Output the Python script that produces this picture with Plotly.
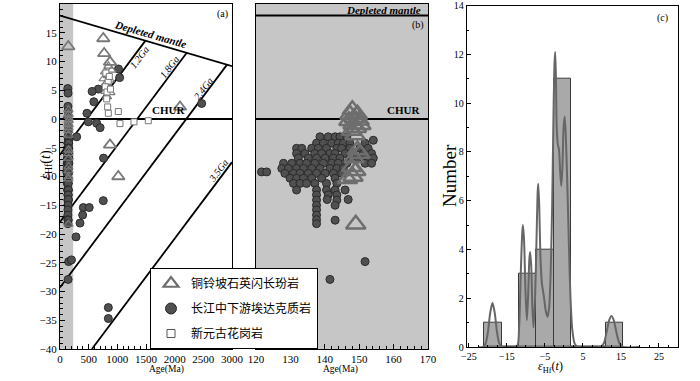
import plotly.graph_objects as go

FONT = "Liberation Serif"
CJK = "Noto Sans CJK SC"

# ---------------- reference model lines (panel a) ----------------
dm_eps_0 = 18.0        # depleted mantle eps at 0 Ma
dm_eps_3000 = 9.2      # depleted mantle eps at 3000 Ma
crust_names = ["1.2Ga", "1.8Ga", "2.4Ga", "3.5Ga"]
crust_eps0 = [-6.2, -17.9, -29.3, -47.4]   # eps at 0 Ma
crust_slope = 0.0133                        # eps per Ma

# ---------------- 长江中下游埃达克质岩 (panel b, also strip of a) ----------------
adk_age = [138.6, 141.0, 143.0, 144.4, 146.4, 154.1,
           137.6, 139.6, 142.0, 143.9, 145.4, 147.3, 151.7,
           131.8, 133.3, 136.2, 138.1, 140.5, 143.5, 144.9, 147.3, 150.2, 152.6,
           131.8, 134.2, 137.1, 139.1, 141.5, 143.0, 145.9, 147.8, 151.2, 153.6,
           132.3, 135.2, 137.6, 140.1, 142.5, 144.4, 147.3, 149.7, 152.2, 154.1,
           128.0, 130.4, 132.8, 134.7, 137.1, 139.6, 142.0, 143.9, 146.4, 151.7, 153.6,
           127.5, 129.4, 131.8, 133.8, 136.2, 138.6, 141.5, 143.5, 145.4,
           128.4, 130.9, 132.8, 135.2, 137.6, 140.1, 142.5, 144.9,
           129.9, 131.8, 133.8, 136.2, 139.1, 143.0,
           130.9, 132.8, 134.7, 137.1, 140.5, 143.5,
           131.8, 137.6, 140.5, 143.0, 145.9,
           137.6, 141.0, 143.5,
           137.6, 140.7, 143.5, 146.8,
           137.6, 143.0,
           137.6, 137.6, 137.6, 143.0, 137.6,
           121.6, 123.1, 151.7, 141.5]
adk_eps = [-3.1, -3.1, -3.1, -3.1, -3.1, -3.7,
           -4.2, -4.2, -4.2, -4.2, -4.2, -4.2, -4.2,
           -5.1, -5.1, -5.1, -5.1, -5.1, -5.1, -5.1, -5.1, -5.1, -5.1,
           -6.0, -6.0, -6.0, -6.0, -6.0, -6.0, -6.0, -6.0, -6.0, -6.0,
           -6.8, -6.8, -6.8, -6.8, -6.8, -6.8, -6.8, -6.8, -6.8, -6.8,
           -7.7, -7.7, -7.7, -7.7, -7.7, -7.7, -7.7, -7.7, -7.7, -7.7, -7.7,
           -8.6, -8.6, -8.6, -8.6, -8.6, -8.6, -8.6, -8.6, -8.6,
           -9.45, -9.45, -9.45, -9.45, -9.45, -9.45, -9.45, -9.45,
           -10.3, -10.3, -10.3, -10.3, -10.3, -10.3,
           -11.2, -11.2, -11.2, -11.2, -11.2, -11.2,
           -12.35, -12.35, -12.35, -12.35, -12.35,
           -13.2, -13.2, -13.2,
           -14.1, -14.0, -14.1, -14.0,
           -15.0, -15.0,
           -15.8, -16.7, -17.5, -17.6, -18.2,
           -9.2, -9.2, -24.8, -27.9]

# extra 埃达克质岩 points in panel (a)
adk_a_age = [135, 140, 138, 142, 136, 145, 140,
             1020, 1040, 668, 560, 590, 470, 494, 640, 700, 291, 760, 2471,
             755, 407, 510, 395, 349, 279, 200, 843, 843]
adk_a_eps = [5.3, 4.5, 2.2, 1.4, 0.3, -1.2, -2.0,
             8.7, 7.2, 5.2, 4.8, 3.0, 1.0, -0.5, -0.75, -1.5, -3.1, -6.8, 2.7,
             -14.2, -15.4, -15.4, -16.7, -18.1, -20.5, -24.5, -32.8, -34.7]

# ---------------- 铜铃坡石英闪长玢岩 ----------------
tlp_age = [148.0, 147.3, 149.5, 148.5, 147.0, 150.0, 148.2, 149.2, 147.8, 150.5,
           148.8, 149.5, 150.2, 148.5, 147.8, 149.0, 148.2, 146.6, 149.0]
tlp_eps = [1.6, 0.8, 0.8, 0.2, -0.3, -0.2, -0.9, -1.5, -2.0, -1.0,
           -2.8, -5.4, -6.0, -6.8, -8.3, -9.0, -10.0, -10.4, -18.3]
tlp_a_age = [145, 755, 770, 872, 872, 1017, 2093]
tlp_a_eps = [12.6, 14.0, 11.4, 9.9, -4.5, -10.0, 2.1]
tlp_a_small_age = [785, 830, 870, 800, 850, 790, 880, 820, 900, 760, 845]
tlp_a_small_eps = [8.2, 7.6, 6.8, 6.2, 5.6, 4.8, 4.6, 3.9, 8.5, 7.0, 9.2]

# ---------------- 新元古花岗岩 ----------------
neo_age = [814, 831, 843, 1017, 1046, 1290, 1540, 800, 840, 790, 860, 820, 880]
neo_eps = [3.5, 2.1, 1.0, 1.3, -0.8, -0.5, -0.3, 8.0, 6.6, 5.6, 7.4, 4.7, 5.2]

# ---------------- panel (c) histogram + density curve ----------------
hist_center = [-18.625, -14.075, -9.525, -4.975, -0.425, 4.125, 8.675, 13.225]
hist_count = [1, 0, 3, 4, 11, 0, 0, 1]
bin_width = 4.55
kde_x = [-22.5, -21.3, -20.6, -20.0, -19.4, -18.8, -18.2, -17.6, -17.0, -16.2,
         -12.4, -11.8, -11.4, -11.0, -10.8, -10.5, -10.1, -9.75, -9.4, -9.1, -8.9, -8.6,
         -8.3, -8.0, -7.6, -7.2, -6.9, -6.75, -6.5, -6.2, -5.8, -5.3, -4.8, -4.3, -3.9,
         -3.5, -3.1, -2.8, -2.5, -2.3, -2.1, -1.9, -1.6, -1.3, -1.0, -0.7, -0.4, -0.1,
         0.2, 0.5, 0.9, 1.3, 1.7, 2.2, 2.8, 3.6,
         9.6, 10.5, 11.2, 11.9, 12.5, 13.1, 13.8, 14.6, 15.6, 20.0]
kde_y = [0, 0, 0.15, 0.6, 1.4, 1.82, 1.4, 0.6, 0.15, 0,
         0, 0.8, 2.8, 4.6, 5.0, 4.4, 2.2, 1.1, 2.2, 3.6, 3.9, 3.3,
         1.6, 0.8, 2.0, 4.5, 6.4, 6.7, 5.8, 3.8, 2.6, 2.1, 1.5, 1.24, 1.6,
         3.0, 5.8, 9.0, 11.6, 12.1, 11.0, 9.0, 8.3, 8.1, 7.2, 6.6, 7.4, 9.0,
         9.45, 8.6, 6.6, 4.2, 2.1, 0.7, 0.15, 0,
         0, 0.15, 0.6, 1.1, 1.27, 1.1, 0.6, 0.15, 0, 0]

# ---------------- styles ----------------
CIRC = dict(symbol="circle", size=8, color="#505050", line=dict(color="#2a2a2a", width=1))
TRI_A = dict(symbol="triangle-up", size=11, color="rgba(0,0,0,0)", line=dict(color="#787878", width=1.8))
TRI_AS = dict(symbol="triangle-up", size=8, color="rgba(0,0,0,0)", line=dict(color="#7a7a7a", width=1.2))
TRI_B = dict(symbol="triangle-up", size=17, color="rgba(0,0,0,0)", line=dict(color="#6e6e6e", width=2.5))
SQ = dict(symbol="square", size=6, color="white", line=dict(color="#777777", width=1))

fig = go.Figure()

# model lines in (a)
dm_slope = (dm_eps_3000 - dm_eps_0) / 3000.0
fig.add_trace(go.Scatter(x=[0, 3000], y=[dm_eps_0, dm_eps_3000], mode="lines",
                         line=dict(color="black", width=1.8), showlegend=False,
                         hoverinfo="skip", xaxis="x", yaxis="y"))
fig.add_trace(go.Scatter(x=[0, 3000], y=[0, 0], mode="lines",
                         line=dict(color="black", width=1.8), showlegend=False,
                         hoverinfo="skip", xaxis="x", yaxis="y"))
for e0 in crust_eps0:
    t0 = max(0.0, (-40 - e0) / crust_slope)
    t1 = min(3000.0, (dm_eps_0 - e0) / (crust_slope - dm_slope))
    fig.add_trace(go.Scatter(x=[t0, t1], y=[e0 + crust_slope * t0, e0 + crust_slope * t1],
                             mode="lines", line=dict(color="black", width=1.8),
                             showlegend=False, hoverinfo="skip", xaxis="x", yaxis="y"))

# model lines in (b)
for v in [dm_eps_0, 0]:
    fig.add_trace(go.Scatter(x=[120, 170], y=[v, v], mode="lines",
                             line=dict(color="black", width=1.8), showlegend=False,
                             hoverinfo="skip", xaxis="x2", yaxis="y2"))

# points panel (a)
fig.add_trace(go.Scatter(x=adk_age + adk_a_age, y=adk_eps + adk_a_eps, mode="markers",
                         marker=CIRC, showlegend=False, xaxis="x", yaxis="y"))
fig.add_trace(go.Scatter(x=tlp_age, y=tlp_eps, mode="markers", marker=TRI_AS,
                         showlegend=False, xaxis="x", yaxis="y"))
fig.add_trace(go.Scatter(x=tlp_a_small_age, y=tlp_a_small_eps, mode="markers", marker=TRI_AS,
                         showlegend=False, xaxis="x", yaxis="y"))
fig.add_trace(go.Scatter(x=neo_age, y=neo_eps, mode="markers", marker=SQ,
                         showlegend=False, xaxis="x", yaxis="y"))
fig.add_trace(go.Scatter(x=tlp_a_age, y=tlp_a_eps, mode="markers", marker=TRI_A,
                         showlegend=False, xaxis="x", yaxis="y"))

# points panel (b)
fig.add_trace(go.Scatter(x=adk_age, y=adk_eps, mode="markers", marker=CIRC,
                         showlegend=False, xaxis="x2", yaxis="y2"))
fig.add_trace(go.Scatter(x=tlp_age, y=tlp_eps, mode="markers", marker=TRI_B,
                         showlegend=False, xaxis="x2", yaxis="y2"))

# panel (c)
fig.add_trace(go.Bar(x=hist_center, y=hist_count, width=bin_width,
                     marker=dict(color="#a9a9a9", line=dict(color="#3a3a3a", width=1)),
                     showlegend=False, xaxis="x3", yaxis="y3"))
fig.add_trace(go.Scatter(x=kde_x, y=kde_y, mode="lines",
                         line=dict(color="#666666", width=2, shape="spline", smoothing=0.7),
                         showlegend=False, xaxis="x3", yaxis="y3"))

# legend entries
for name, mk, grp in [("铜铃坡石英闪长玢岩", dict(symbol="triangle-up", size=13, color="rgba(0,0,0,0)",
                                                 line=dict(color="#6e6e6e", width=2.2)), "g1"),
                      ("长江中下游埃达克质岩", dict(symbol="circle", size=11, color="#505050",
                                                  line=dict(color="#2a2a2a", width=1)), "g2"),
                      ("新元古花岗岩", dict(symbol="square", size=8, color="white",
                                          line=dict(color="#555555", width=1)), "g3")]:
    fig.add_trace(go.Scatter(x=[None], y=[None], mode="markers", marker=mk, name=name,
                             legendgroup=grp, showlegend=True, xaxis="x", yaxis="y"))

tickfont = dict(family=FONT, size=11, color="black")
ydom = [1 - 349 / 381, 1 - 4 / 381]
common = dict(showgrid=False, zeroline=False, showline=True, linecolor="black",
              linewidth=1.3, mirror=True, tickfont=tickfont, tickcolor="black",
              ticks="inside", automargin=False)
common_c = dict(common, tickfont=dict(family=FONT, size=10, color="black"))

fig.update_layout(
    width=700, height=381, margin=dict(l=0, r=0, t=0, b=0, autoexpand=False),
    paper_bgcolor="white", plot_bgcolor="white",
    xaxis=dict(domain=[60 / 700, 232 / 700], range=[0, 3000], tick0=0, dtick=500, ticklen=5,
               minor=dict(dtick=100, ticklen=3, ticks="inside", tickcolor="black"), anchor="y", **common),
    yaxis=dict(domain=ydom, range=[-40, 20], dtick=5, ticklen=5,
               minor=dict(dtick=1, ticklen=3, ticks="inside", tickcolor="black"), anchor="x", **common),
    xaxis2=dict(domain=[256 / 700, 428 / 700], range=[120, 170], dtick=10, ticklen=5,
                minor=dict(dtick=2, ticklen=3, ticks="inside", tickcolor="black"), anchor="y2", **common),
    yaxis2=dict(domain=ydom, range=[-40, 20], showticklabels=False, anchor="x2",
                **{k: v for k, v in common.items() if k != "ticks"}, ticks=""),
    xaxis3=dict(domain=[467 / 700, 678 / 700], range=[-25.5, 30], tick0=-25, dtick=10, ticklen=4,
                minor=dict(dtick=2.5, ticklen=2, ticks="inside", tickcolor="black"), anchor="y3", **common_c),
    yaxis3=dict(domain=[1 - 347 / 381, 1 - 5.7 / 381], range=[0, 14], dtick=2, ticklen=4,
                minor=dict(dtick=1, ticklen=2, ticks="inside", tickcolor="black"), anchor="x3", **common_c),
    bargap=0,
    legend=dict(x=150 / 700, y=1 - 268 / 381, xanchor="left", yanchor="top",
                bgcolor="white", bordercolor="black", borderwidth=1,
                font=dict(family=CJK, size=12, color="black"), tracegroupgap=6,
                itemsizing="trace"),
    shapes=[
        dict(type="rect", xref="x", yref="y domain", x0=0, x1=230, y0=0, y1=1,
             fillcolor="#c6c6c6", line=dict(width=0), layer="below"),
        dict(type="rect", xref="x2 domain", yref="y2 domain", x0=0, x1=1, y0=0, y1=1,
             fillcolor="#c6c6c6", line=dict(width=0), layer="below"),
    ],
)

ann = []
def A(text, x, y, xref, yref, size=11, angle=0, **kw):
    ann.append(dict(text=text, x=x, y=y, xref=xref, yref=yref, showarrow=False,
                    textangle=angle, font=dict(family=FONT, size=size, color="black"), **kw))

A("<b><i>Depleted mantle</i></b>", 1570, 14.7, "x", "y", 11, 16)
for name, ax, ay in zip(crust_names, [1395, 1918, 2500, 2761], [10.8, 9.1, 5.3, -8.9]):
    A("<i>" + name + "</i>", ax, ay, "x", "y", 10, -53)
A("<b>CHUR</b>", 1900, 0.1, "x", "y", 11, yanchor="bottom")
A("(a)", 2826, 18.3, "x", "y", 10)
A("<b><i>Depleted mantle</i></b>", 157.0, 19.0, "x2", "y2", 11)
A("<b>CHUR</b>", 162.8, 0.1, "x2", "y2", 11, yanchor="bottom")
A("(b)", 167.1, 16.3, "x2", "y2", 10)
A("(c)", 25.8, 13.5, "x3", "y3", 10)
A("<i>ε</i><sub>Hf</sub>(<i>t</i>)", 35 / 700, 1 - 165 / 381, "paper", "paper", 14, -90)
A("Age(Ma)", 146.7 / 700, 1 - 376.5 / 381, "paper", "paper", 9.5)
A("Age(Ma)", 340 / 700, 1 - 376.5 / 381, "paper", "paper", 9.5)
A("<i>ε</i><sub>Hf</sub>(<i>t</i>)", 565 / 700, 1 - 376.5 / 381, "paper", "paper", 12)
A("Number", 449 / 700, 1 - 176 / 381, "paper", "paper", 19, -90)
fig.update_layout(annotations=ann)

fig.write_html("out.html", config={"displayModeBar": False},
               post_script="document.body.style.margin='0';document.body.style.overflow='hidden';")
